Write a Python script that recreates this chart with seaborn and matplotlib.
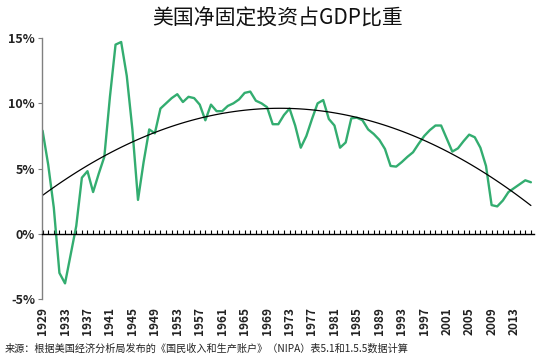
import numpy as np
import pandas as pd
import matplotlib
matplotlib.use("Agg")
import matplotlib.pyplot as plt
import seaborn as sns

years = list(range(1929, 2017))
share = [7.9, 5.3, 2.0, -3.0, -3.8, -1.6, 0.6, 4.3, 4.8, 3.2,
         4.6, 5.9, 10.5, 14.5, 14.7, 12.1, 8.0, 2.6, 5.5, 8.0,
         7.7, 9.6, 10.0, 10.4, 10.7, 10.1, 10.5, 10.4, 9.9, 8.7,
         9.9, 9.4, 9.4, 9.8, 10.0, 10.3, 10.8, 10.9, 10.2, 10.0,
         9.7, 8.4, 8.4, 9.1, 9.6, 8.3, 6.6, 7.5, 8.8, 10.0,
         10.25, 8.8, 8.3, 6.6, 7.0, 8.85, 8.9, 8.7, 8.0, 7.65,
         7.2, 6.5, 5.2, 5.15, 5.5, 5.9, 6.25, 6.9, 7.5, 7.95,
         8.3, 8.3, 7.3, 6.3, 6.55, 7.1, 7.6, 7.4, 6.6, 5.2,
         2.2, 2.1, 2.55, 3.2, 3.5, 3.8, 4.1, 3.95]
label_years = list(range(1929, 2017, 4))
y_ticks = [-5, 0, 5, 10, 15]

title = "美国净固定投资占GDP比重"
source = "来源：根据美国经济分析局发布的《国民收入和生产账户》（NIPA）表5.1和1.5.5数据计算"

df = pd.DataFrame({"year": years, "share": share})

sns.set_style("white")
plt.rcParams['font.family'] = ['Noto Sans CJK SC', 'DejaVu Sans']

fig = plt.figure(figsize=(5.5, 3.56), dpi=100)
ax = fig.add_axes([0.0764, 0.160, 0.895, 0.733])

green = "#33AD70"
sns.lineplot(data=df, x="year", y="share", ax=ax, color=green, lw=1.7)
sns.regplot(data=df, x="year", y="share", ax=ax, order=2, ci=None,
            scatter=False, line_kws=dict(color="black", lw=0.9))

ax.set_xlim(1928.9, 2016.6)
ax.set_ylim(-5, 15)
ax.set_xlabel("")
ax.set_ylabel("")

# zero axis with yearly tick marks
ax.spines['bottom'].set_position(('data', 0))
ax.spines['bottom'].set_color("black")
ax.spines['bottom'].set_linewidth(1.0)
ax.spines['top'].set_visible(False)
ax.spines['right'].set_visible(False)
ax.spines['left'].set_color("#808080")
ax.spines['left'].set_linewidth(1.0)
ax.set_xticks(years)
ax.set_xticklabels([])
ax.tick_params(axis='x', direction='in', length=3, width=0.8, color="black", bottom=True)

ax.set_yticks(y_ticks)
ax.set_yticklabels([f"{v}%" for v in y_ticks], fontsize=9, fontweight='bold', color="#222222")
ax.tick_params(axis='y', direction='out', length=3, width=0.8, color="#808080", left=True, pad=2)

sec = ax.secondary_xaxis(0)
sec.set_xticks(label_years)
sec.set_xticklabels([str(y) for y in label_years], rotation=90, fontsize=8.5,
                    fontweight='bold', color="#222222")
sec.tick_params(length=0, pad=6)
sec.spines['bottom'].set_visible(False)

fig.text(0.505, 0.948, title, ha='center', va='center', fontsize=15, color="#111111")
fig.text(0.008, 0.006, source, ha='left', va='bottom', fontsize=7.3, color="#222222")

fig.savefig("out.png", dpi=100)
